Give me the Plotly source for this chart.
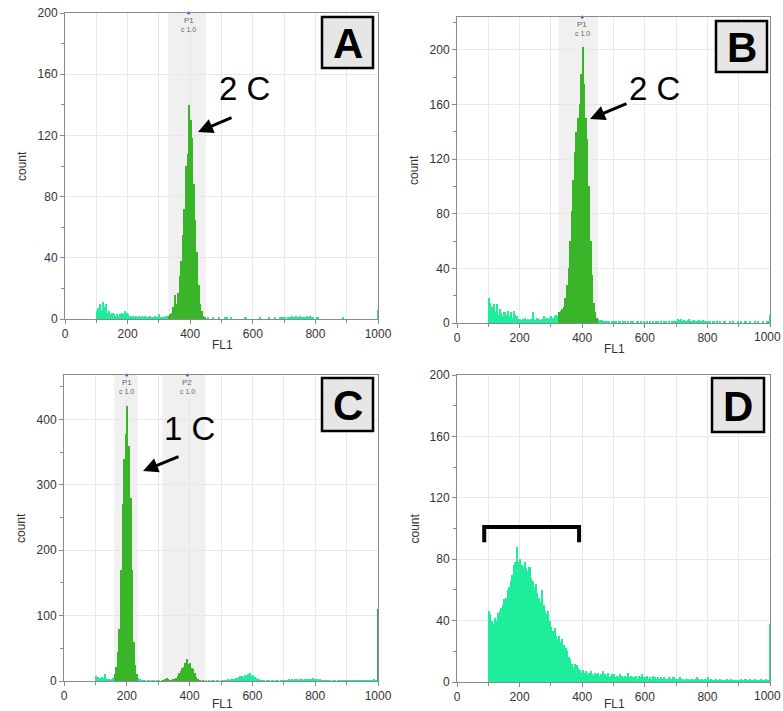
import plotly.graph_objects as go

# ---------------- data (histogram counts, 5-unit FL1 bins from 100 to 1000) -------------
BIN_START = 100
BIN_WIDTH = 5

a_counts = (
    [5, 7, 10, 6, 11, 8, 10, 4, 5, 3, 4, 3, 2, 3, 2, 3, 4, 3, 5, 4] +            # 100-195
    [3, 2, 1, 2, 1, 2, 1, 2, 1, 2, 1, 2, 1, 1, 2, 1, 1, 2, 1, 1] +               # 200-295
    [3, 1, 1, 1, 2, 2, 2, 3, 4, 8, 16, 10, 17, 28, 38, 55, 72, 100, 108, 140] +  # 300-395
    [130, 118, 88, 65, 44, 22, 10, 5, 2, 1, 0, 1, 0, 0, 1, 0, 0, 0, 1, 0] +      # 400-495
    [0, 0, 1, 1, 0, 0, 1, 0, 0, 0, 0, 0, 0, 0, 0, 1, 0, 0, 0, 0] +               # 500-595
    [0, 0, 0, 0, 1, 0, 0, 0, 0, 0, 1, 0, 0, 0, 1, 0, 0, 1, 1, 1] +               # 600-695
    [1, 0, 1, 1, 1, 2, 1, 2, 1, 1, 2, 1, 1, 1, 2, 1, 2, 1, 1, 0] +               # 700-795
    [0, 1, 0, 0, 0, 0, 0, 0, 0, 0, 0, 0, 0, 0, 0, 0, 0, 1, 0, 0] +               # 800-895
    [0, 0, 0, 0, 0, 0, 0, 0, 0, 0, 0, 0, 0, 0, 0, 0, 0, 0, 0, 0]                 # 900-995
)
b_counts = (
    [18, 15, 12, 14, 8, 14, 6, 10, 7, 5, 8, 6, 9, 5, 8, 4, 9, 6, 5, 3] +
    [3, 2, 3, 4, 2, 3, 2, 3, 8, 3, 2, 4, 3, 2, 3, 5, 3, 4, 3, 4] +
    [5, 4, 5, 6, 5, 8, 9, 10, 12, 18, 28, 40, 60, 82, 105, 125, 140, 150, 160, 182] +
    [202, 175, 150, 135, 100, 60, 35, 15, 8, 4, 3, 2, 2, 1, 1, 1, 1, 1, 0, 1] +
    [1, 1, 0, 1, 1, 0, 1, 1, 0, 1, 0, 1, 1, 0, 0, 1, 0, 1, 0, 1] +
    [0, 1, 0, 1, 0, 1, 0, 1, 1, 0, 1, 0, 1, 1, 0, 1, 0, 1, 1, 1] +
    [1, 3, 2, 3, 1, 2, 1, 2, 3, 1, 1, 2, 1, 1, 2, 1, 1, 2, 1, 1] +
    [1, 1, 0, 1, 1, 0, 1, 0, 1, 0, 1, 1, 0, 0, 1, 0, 1, 0, 0, 1] +
    [0, 1, 0, 0, 1, 0, 0, 1, 0, 0, 1, 0, 1, 0, 0, 1, 0, 0, 1, 1]
)
c_counts = (
    [7, 6, 5, 4, 6, 4, 10, 3, 2, 1, 2, 5, 10, 22, 45, 80, 170, 270, 340, 378] +
    [420, 360, 280, 170, 60, 25, 10, 4, 2, 1, 1, 1, 0, 1, 1, 0, 1, 1, 0, 1] +
    [1, 0, 1, 1, 2, 4, 3, 1, 1, 2, 2, 4, 8, 12, 16, 20, 22, 28, 33, 26] +
    [28, 20, 18, 12, 6, 2, 1, 0, 1, 0, 1, 0, 1, 0, 1, 1, 0, 1, 1, 0] +
    [1, 1, 1, 1, 2, 1, 2, 2, 3, 4, 5, 6, 7, 8, 6, 9, 8, 10, 12, 8] +
    [9, 6, 4, 3, 2, 1, 1, 1, 0, 1, 1, 0, 1, 1, 0, 1, 1, 0, 1, 1] +
    [1, 1, 1, 2, 1, 2, 1, 2, 2, 1, 2, 2, 1, 2, 3, 3, 2, 3, 5, 3] +
    [2, 2, 1, 2, 1, 1, 1, 1, 1, 1, 0, 1, 1, 0, 1, 1, 1, 1, 1, 1] +
    [1, 1, 1, 1, 1, 1, 1, 1, 1, 1, 1, 1, 1, 1, 1, 1, 1, 2, 1, 1]
)
d_counts = (
    [46, 44, 40, 38, 42, 40, 45, 46, 48, 50, 54, 55, 60, 62, 66, 70, 76, 78, 88, 78] +
    [80, 76, 75, 78, 74, 72, 75, 68, 66, 62, 64, 58, 55, 52, 60, 50, 46, 44, 46, 40] +
    [36, 33, 35, 30, 28, 30, 26, 28, 24, 22, 20, 16, 15, 12, 10, 12, 11, 9, 8, 6] +
    [8, 6, 7, 5, 6, 7, 5, 4, 6, 5, 6, 4, 5, 7, 5, 4, 6, 3, 4, 5] +
    [5, 3, 4, 3, 5, 4, 3, 4, 3, 6, 3, 4, 3, 3, 4, 2, 4, 3, 5, 3] +
    [3, 4, 2, 3, 2, 4, 3, 2, 3, 2, 3, 2, 3, 2, 2, 3, 2, 2, 3, 2] +
    [2, 2, 3, 2, 2, 1, 2, 2, 1, 2, 2, 1, 2, 3, 2, 1, 2, 1, 2, 2] +
    [3, 1, 2, 1, 1, 2, 1, 1, 2, 1, 1, 1, 2, 1, 1, 2, 1, 1, 1, 1] +
    [1, 2, 1, 1, 2, 1, 1, 2, 1, 1, 2, 1, 1, 1, 2, 1, 1, 2, 1, 1]
)
# counts piled in the last (off-scale) channel at FL1 = 1000
edge_counts = {"A": 6, "B": 6, "C": 110, "D": 38}

# gates (FL1 intervals), gate names and label positions
gates = {
    "A": [(330, 450)],
    "B": [(325, 450)],
    "C": [(160, 235), (313, 450)],
    "D": [],
}
gate_names = {"A": ["P1"], "B": ["P1"], "C": ["P1", "P2"], "D": []}
gate_label_x = {"A": [395], "B": [400], "C": [200, 393], "D": []}

y_max = {"A": 200, "B": 224, "C": 468, "D": 200}
y_dtick = {"A": 40, "B": 40, "C": 100, "D": 40}
x_ticks = [0, 200, 400, 600, 800, 1000]
X_MAX_LABEL = "1000"

ploidy_text = {"A": "2 C", "B": "2 C", "C": "1 C"}
bracket_D = dict(x0=87, x1=390, y_top=101, y_bottom=91)

counts = {"A": a_counts, "B": b_counts, "C": c_counts, "D": d_counts}

# ---------------- layout geometry (pixels of the 783x711 canvas) ----------------
W, H = 783, 711
def px(x):
    return x / W
def py(y):
    return 1 - y / H

plot_px = {
    "A": ((65, 378), (13, 319)),
    "B": ((457, 770), (17, 323)),
    "C": ((64, 378), (375, 681)),
    "D": ((457, 770), (375, 682)),
}
fl1_offset = {"A": 26, "B": 26, "C": 23, "D": 22}
letter_box_px = {
    "A": (322, 17, 373, 68),
    "B": (716, 21, 767, 72),
    "C": (322, 378, 373, 431),
    "D": (712, 378, 764, 432),
}
ploidy_pos_px = {"A": (244, 88), "B": (654, 88), "C": (189, 429)}
arrow_px = {  # (tail_x, tail_y, head_x, head_y)
    "A": (233, 117, 198, 132),
    "B": (628, 103, 590, 119),
    "C": (180, 456, 143, 471),
}

GATE_GREEN = "#3ab52a"
OUT_GREEN = "#1eee9c"
EDGE_TEAL = "#2aa77a"
GRID = "#e8e8e8"
AXIS = "#8a8a8a"
FONT = "Liberation Sans, Arial, sans-serif"

fig = go.Figure()
shapes = []
annotations = []
layout_axes = {}


def text_ann(x, y, text, size, **kw):
    d = dict(x=x, y=y, xref="paper", yref="paper", text=text, showarrow=False,
             xanchor="center", yanchor="middle", font=dict(family=FONT, size=size, color=kw.pop("color", "#333")))
    d.update(kw)
    return d


for idx, key in enumerate(["A", "B", "C", "D"]):
    n = "" if idx == 0 else str(idx + 1)
    xa, ya = "x" + n, "y" + n
    (x0p, x1p), (y0p, y1p) = plot_px[key]
    cnt = counts[key]
    centers = [BIN_START + BIN_WIDTH * (i + 0.5) for i in range(len(cnt))]

    def in_gate(c):
        return any(g0 <= c < g1 for g0, g1 in gates[key])

    xin = [c for c, v in zip(centers, cnt) if in_gate(c)]
    yin = [v for c, v in zip(centers, cnt) if in_gate(c)]
    xout = [c for c, v in zip(centers, cnt) if not in_gate(c)]
    yout = [v for c, v in zip(centers, cnt) if not in_gate(c)]

    fig.add_trace(go.Bar(x=xout, y=yout, width=BIN_WIDTH, marker=dict(color=OUT_GREEN, line=dict(width=0)),
                         xaxis=xa, yaxis=ya, showlegend=False, hoverinfo="x+y"))
    if xin:
        fig.add_trace(go.Bar(x=xin, y=yin, width=BIN_WIDTH, marker=dict(color=GATE_GREEN, line=dict(width=0)),
                             xaxis=xa, yaxis=ya, showlegend=False, hoverinfo="x+y"))
    fig.add_trace(go.Bar(x=[999], y=[edge_counts[key]], width=2,
                         marker=dict(color=EDGE_TEAL if key == "C" else OUT_GREEN, line=dict(width=0)),
                         xaxis=xa, yaxis=ya, showlegend=False))

    # gate markers at top
    if gate_label_x[key]:
        fig.add_trace(go.Scatter(x=gate_label_x[key], y=[y_max[key]] * len(gate_label_x[key]),
                                 mode="markers", marker=dict(color="#3355dd", size=3, symbol="circle"),
                                 xaxis=xa, yaxis=ya, showlegend=False, cliponaxis=False, hoverinfo="skip"))

    right_col = x1p > W - 20
    shown_ticks = x_ticks[:-1] if right_col else x_ticks
    layout_axes["xaxis" + n] = dict(
        domain=[px(x0p), px(x1p)], anchor=ya, range=[0, 1000], automargin=False,
        tickvals=shown_ticks, ticks="outside", ticklen=4, tickcolor=AXIS,
        showline=True, linecolor=AXIS, linewidth=1, mirror=True,
        showgrid=True, gridcolor=GRID, zeroline=False,
        minor=dict(dtick=100, tick0=0, ticks="outside", ticklen=3, tickcolor=AXIS, showgrid=True, gridcolor=GRID),
        tickfont=dict(family=FONT, size=12, color="#333"), fixedrange=True,
    )
    if right_col:
        # last tick label would overflow the canvas: keep it inside, flush to the right edge
        annotations.append(dict(x=1000, y=0, xref=xa, yref=ya + " domain", text=X_MAX_LABEL,
                                showarrow=False, xanchor="center", yanchor="top", yshift=-5, xshift=-3,
                                font=dict(family=FONT, size=12, color="#333")))
    layout_axes["yaxis" + n] = dict(
        domain=[py(y1p), py(y0p)], anchor=xa, range=[0, y_max[key]], automargin=False,
        dtick=y_dtick[key], tick0=0, ticks="outside", ticklen=4, tickcolor=AXIS,
        showline=True, linecolor=AXIS, linewidth=1, mirror=True,
        showgrid=True, gridcolor=GRID, zeroline=False,
        minor=dict(dtick=y_dtick[key] / 2, ticks="outside", ticklen=3, tickcolor=AXIS, showgrid=False),
        tickfont=dict(family=FONT, size=12, color="#333"), fixedrange=True,
    )

    # gate bands
    for (g0, g1), name, lx in zip(gates[key], gate_names[key], gate_label_x[key]):
        shapes.append(dict(type="rect", xref=xa, yref=ya + " domain", x0=g0, x1=g1, y0=0, y1=1,
                           fillcolor="#f0f0f0", line=dict(width=0), layer="below"))
        annotations.append(dict(x=lx, y=1, xref=xa, yref=ya + " domain", xanchor="center", yanchor="top",
                                yshift=-1, text=name, showarrow=False,
                                font=dict(family=FONT, size=8, color="#666")))
        annotations.append(dict(x=lx, y=1, xref=xa, yref=ya + " domain", xanchor="center", yanchor="top",
                                yshift=-11, text="c 1.0", showarrow=False,
                                font=dict(family=FONT, size=7, color="#666")))

    # axis titles
    annotations.append(text_ann(px(x0p - 43), py((y0p + y1p) / 2), "count", 12, textangle=-90))
    annotations.append(text_ann(px((x0p + x1p) / 2 + 1), py(y1p + fl1_offset[key]), "FL1", 12))

    # panel letter box
    bx0, by0, bx1, by1 = letter_box_px[key]
    shapes.append(dict(type="rect", xref="paper", yref="paper", x0=px(bx0), x1=px(bx1), y0=py(by1), y1=py(by0),
                       fillcolor="#e6e6e6", line=dict(color="black", width=2.5)))
    annotations.append(text_ann(px((bx0 + bx1) / 2), py((by0 + by1) / 2 + 1), "<b>%s</b>" % key, 42,
                                color="black"))

    # ploidy label + arrow
    if key in ploidy_text:
        tx, ty = ploidy_pos_px[key]
        annotations.append(text_ann(px(tx), py(ty), ploidy_text[key], 33, color="black"))
        t0x, t0y, hx, hy = arrow_px[key]
        annotations.append(dict(x=px(hx), y=py(hy), xref="paper", yref="paper", text="",
                                showarrow=True, ax=t0x - hx, ay=t0y - hy, arrowhead=2, arrowsize=1,
                                arrowwidth=3, arrowcolor="black"))

# bracket in panel D
bk = bracket_D
shapes.append(dict(type="path", xref="x4", yref="y4",
                   path="M %g,%g L %g,%g L %g,%g L %g,%g" % (bk["x0"], bk["y_bottom"], bk["x0"], bk["y_top"],
                                                          bk["x1"], bk["y_top"], bk["x1"], bk["y_bottom"]),
                   line=dict(color="black", width=4)))

fig.update_layout(
    width=W, height=H, margin=dict(l=0, r=0, t=0, b=0, pad=0, autoexpand=False),
    paper_bgcolor="white", plot_bgcolor="white",
    barmode="overlay", bargap=0,
    shapes=shapes, annotations=annotations,
    font=dict(family=FONT),
    **layout_axes,
)

fig.write_html("out.html",
               config={"displayModeBar": False},
               post_script="document.body.style.margin='0';document.body.style.padding='0';"
                           "document.body.style.overflow='hidden';")
